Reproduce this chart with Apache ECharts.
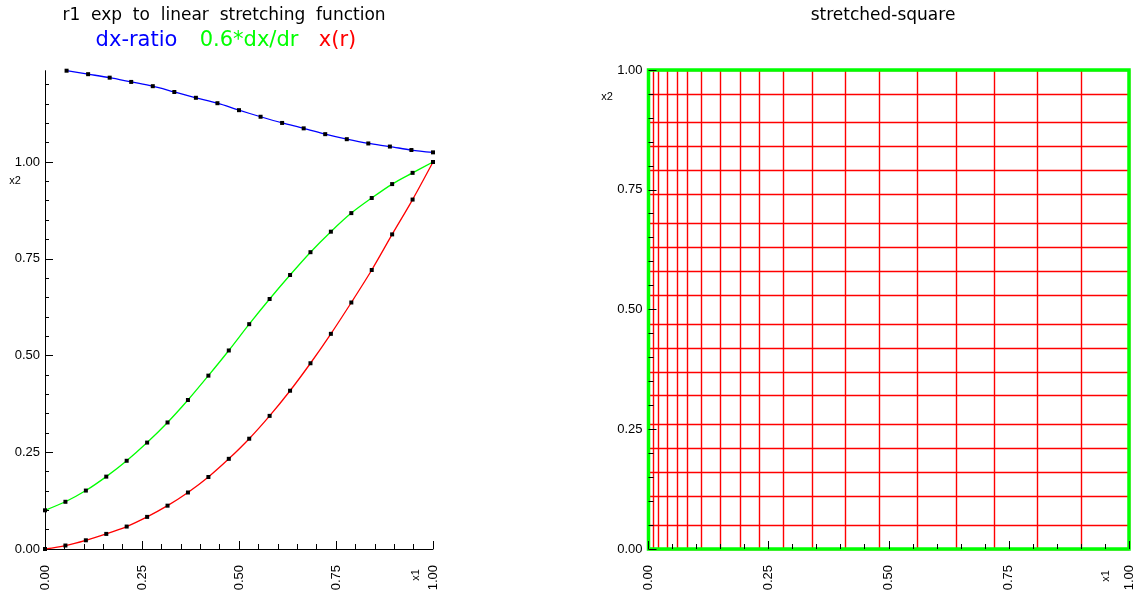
<!DOCTYPE html>
<html>
<head>
<meta charset="utf-8">
<script src="https://cdn.jsdelivr.net/npm/echarts@6/dist/echarts.min.js"></script>
<style>
html,body{margin:0;padding:0;background:#fff;}
#chart{width:1140px;height:605px;}
</style>
</head>
<body>
<div id="chart"></div>
<script>
// ---- data ----
const rNodes = [0, 0.0526, 0.1053, 0.1579, 0.2105, 0.2632, 0.3158, 0.3684, 0.4211, 0.4737,
                0.5263, 0.5789, 0.6316, 0.6842, 0.7368, 0.7895, 0.8421, 0.8947, 0.9474, 1];
const xOfR = [0, 0.009, 0.0225, 0.039, 0.058, 0.083, 0.112, 0.146, 0.186, 0.233,
              0.285, 0.344, 0.409, 0.480, 0.556, 0.637, 0.721, 0.813, 0.903, 1.0];
const dxdr06 = [0.1, 0.122, 0.151, 0.187, 0.228, 0.275, 0.327, 0.385, 0.448, 0.513,
                0.581, 0.646, 0.708, 0.767, 0.820, 0.868, 0.907, 0.943, 0.972, 1.0];
const ratioR = [0.0556, 0.1111, 0.1667, 0.2222, 0.2778, 0.3333, 0.3889, 0.4444, 0.5,
                0.5556, 0.6111, 0.6667, 0.7222, 0.7778, 0.8333, 0.8889, 0.9444, 1];
const dxRatio = [1.236, 1.227, 1.218, 1.207, 1.196, 1.181, 1.166, 1.152, 1.134,
                 1.117, 1.101, 1.087, 1.072, 1.059, 1.048, 1.040, 1.031, 1.025];
const majorTicks = [0, 0.25, 0.5, 0.75, 1.0];
const minorTicks = [0.05, 0.1, 0.15, 0.2, 0.3, 0.35, 0.4, 0.45, 0.55, 0.6, 0.65, 0.7,
                    0.8, 0.85, 0.9, 0.95, 1.05, 1.1, 1.15, 1.2];
const leftYMax = 1.236;
const titleLeft = 'r1  exp  to  linear  stretching  function';
const legendNames = ['dx-ratio', '0.6*dx/dr', 'x(r)'];
const titleRight = 'stretched-square';

// ---- chart ----
const chart = echarts.init(document.getElementById('chart'), null, {renderer: 'canvas'});
const FONT = 'Liberation Sans';
const TFONT = 'DejaVu Sans';
const lbl = {fontFamily: FONT, fontSize: 13, color: '#000'};
const RED = '#ff0000';

function pairs(xs, ys) { return xs.map((x, i) => [x, ys[i]]); }

const xAxisCommon = {
  type: 'value', min: 0, max: 1, interval: 0.25,
  splitLine: {show: false},
  axisTick: {show: true, inside: true, length: 8, lineStyle: {color: '#000', width: 1}},
  minorTick: {show: true, splitNumber: 5, length: 5, lineStyle: {color: '#000', width: 1}},
  axisLabel: Object.assign({rotate: 90, margin: 16, formatter: v => v.toFixed(2), showMinLabel: true, showMaxLabel: true}, lbl)
};

const meshStyle = {color: RED, width: 1.4, type: 'solid', opacity: 1};

const option = {
  animation: false,
  backgroundColor: '#fff',
  grid: [
    {left: 45, right: 707, top: 70.7, bottom: 56},
    {left: 648.5, right: 11, top: 70, bottom: 56, show: true, borderColor: '#00ff00', borderWidth: 3.5, backgroundColor: 'transparent', z: 5}
  ],
  xAxis: [
    Object.assign({}, xAxisCommon, {gridIndex: 0, axisLine: {show: true, onZero: false, lineStyle: {color: '#000', width: 1}}}),
    Object.assign({}, xAxisCommon, {gridIndex: 1, z: 6, axisLine: {show: false, onZero: false}})
  ],
  yAxis: [
    {type: 'value', gridIndex: 0, min: 0, max: leftYMax, position: 'left',
     splitLine: {show: false},
     axisLine: {show: true, onZero: false, lineStyle: {color: '#000', width: 1}},
     axisTick: {show: true, inside: true, length: 8, customValues: majorTicks, lineStyle: {color: '#000'}},
     axisLabel: Object.assign({customValues: majorTicks, margin: 5, formatter: v => v.toFixed(2)}, lbl)},
    {type: 'value', gridIndex: 0, min: 0, max: leftYMax, position: 'left', offset: 0,
     splitLine: {show: false},
     axisLine: {show: false},
     axisTick: {show: true, inside: true, length: 4, customValues: minorTicks, lineStyle: {color: '#000'}},
     axisLabel: {show: false}},
    {type: 'value', gridIndex: 1, min: 0, max: 1, interval: 0.25, z: 6,
     splitLine: {show: false},
     axisLine: {show: false, onZero: false},
     axisTick: {show: true, inside: true, length: 8, lineStyle: {color: '#000'}},
     minorTick: {show: true, splitNumber: 5, length: 5, lineStyle: {color: '#000'}},
     axisLabel: Object.assign({margin: 6, formatter: v => v.toFixed(2)}, lbl)}
  ],
  series: [
    {name: legendNames[0], type: 'line', xAxisIndex: 0, yAxisIndex: 0, data: pairs(ratioR, dxRatio),
     smooth: 0.3, symbol: 'rect', symbolSize: 4, showSymbol: true,
     lineStyle: {color: '#0000ff', width: 1.3}, itemStyle: {color: '#000'}},
    {name: legendNames[1], type: 'line', xAxisIndex: 0, yAxisIndex: 0, data: pairs(rNodes, dxdr06),
     smooth: 0.3, symbol: 'rect', symbolSize: 4, showSymbol: true,
     lineStyle: {color: '#00ff00', width: 1.3}, itemStyle: {color: '#000'}},
    {name: legendNames[2], type: 'line', xAxisIndex: 0, yAxisIndex: 0, data: pairs(rNodes, xOfR),
     smooth: 0.3, symbol: 'rect', symbolSize: 4, showSymbol: true,
     lineStyle: {color: '#ff0000', width: 1.3}, itemStyle: {color: '#000'}},
    {name: 'mesh', type: 'line', xAxisIndex: 1, yAxisIndex: 2, data: [], color: RED, z: -1,
     itemStyle: {color: RED}, lineStyle: {color: RED},
     markLine: {
       silent: true, symbol: ['none', 'none'], label: {show: false}, animation: false, z: -1,
       lineStyle: meshStyle,
       emphasis: {disabled: true},
       data: xOfR.map(v => ({xAxis: v, lineStyle: meshStyle}))
               .concat(rNodes.map(v => ({yAxis: v, lineStyle: meshStyle})))
     }}
  ],
  graphic: [
    {type: 'text', x: 224, y: 16, style: {text: titleLeft, fontFamily: TFONT, fontSize: 17, fill: '#000', align: 'center', verticalAlign: 'middle'}},
    {type: 'text', x: 136.5, y: 41, style: {text: legendNames[0], fontFamily: TFONT, fontSize: 21, fill: '#0000ff', align: 'center', verticalAlign: 'middle'}},
    {type: 'text', x: 249, y: 41, style: {text: legendNames[1], fontFamily: TFONT, fontSize: 21, fill: '#00ff00', align: 'center', verticalAlign: 'middle'}},
    {type: 'text', x: 337.5, y: 41, style: {text: legendNames[2], fontFamily: TFONT, fontSize: 21, fill: '#ff0000', align: 'center', verticalAlign: 'middle'}},
    {type: 'text', x: 883, y: 16, style: {text: titleRight, fontFamily: TFONT, fontSize: 17, fill: '#000', align: 'center', verticalAlign: 'middle'}},
    {type: 'text', x: 15, y: 181, style: {text: 'x2', fontFamily: FONT, fontSize: 11, fill: '#000', align: 'center', verticalAlign: 'middle'}},
    {type: 'text', x: 607, y: 97, style: {text: 'x2', fontFamily: FONT, fontSize: 11, fill: '#000', align: 'center', verticalAlign: 'middle'}},
    {type: 'text', x: 416, y: 575, rotation: Math.PI / 2, style: {text: 'x1', fontFamily: FONT, fontSize: 11, fill: '#000', align: 'center', verticalAlign: 'middle'}},
    {type: 'text', x: 1106, y: 576, rotation: Math.PI / 2, style: {text: 'x1', fontFamily: FONT, fontSize: 11, fill: '#000', align: 'center', verticalAlign: 'middle'}}
  ]
};
chart.setOption(option);
</script>
</body>
</html>
